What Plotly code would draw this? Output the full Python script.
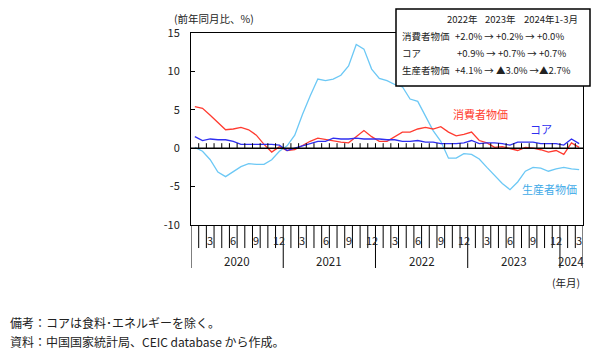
import plotly.graph_objects as go

years = ["2020", "2021", "2022", "2023", "2024"]
months_per_year = [12, 12, 12, 12, 3]
month_labels = []
for n in months_per_year:
    month_labels += [str(m) if m % 3 == 0 else "" for m in range(1, n + 1)]

cpi = [5.4, 5.2, 4.3, 3.3, 2.4, 2.5, 2.7, 2.4, 1.7, 0.5, -0.5, 0.2,
       -0.3, -0.2, 0.4, 0.9, 1.3, 1.1, 1.0, 0.8, 0.7, 1.5, 2.3, 1.5,
       0.9, 0.9, 1.5, 2.1, 2.1, 2.5, 2.7, 2.5, 2.8, 2.1, 1.6, 1.8,
       2.1, 1.0, 0.7, 0.1, 0.2, 0.0, -0.3, 0.1, 0.0, -0.2, -0.5, -0.3,
       -0.8, 0.7, 0.1]
core = [1.5, 1.0, 1.2, 1.1, 1.1, 0.9, 0.5, 0.5, 0.5, 0.5, 0.5, 0.4,
        -0.3, 0.0, 0.3, 0.7, 0.9, 0.9, 1.3, 1.2, 1.2, 1.3, 1.2, 1.2,
        1.2, 1.1, 1.1, 0.9, 0.9, 1.0, 0.8, 0.8, 0.6, 0.6, 0.6, 0.7,
        1.0, 0.6, 0.7, 0.7, 0.6, 0.4, 0.8, 0.8, 0.8, 0.6, 0.6, 0.6,
        0.4, 1.2, 0.6]
ppi = [0.1, -0.4, -1.5, -3.1, -3.7, -3.0, -2.4, -2.0, -2.1, -2.1, -1.5, -0.4,
       0.3, 1.7, 4.4, 6.8, 9.0, 8.8, 9.0, 9.5, 10.7, 13.5, 12.9, 10.3,
       9.1, 8.8, 8.3, 8.0, 6.4, 6.1, 4.2, 2.3, 0.9, -1.3, -1.3, -0.7,
       -0.8, -1.4, -2.5, -3.6, -4.6, -5.4, -4.4, -3.0, -2.5, -2.6, -3.0, -2.7,
       -2.5, -2.7, -2.8]

y_ticks = [15, 10, 5, 0, -5, -10]
box_header = ["2022年", "2023年", "2024年1-3月"]
box_rows = [("消費者物価", "+2.0% → +0.2% → +0.0%"),
            ("コア", "+0.9% → +0.7% → +0.7%"),
            ("生産者物価", "+4.1% → ▲3.0% →▲2.7%")]

n = len(cpi)
x = [i + 0.5 for i in range(n)]

c_cpi = "#FF3B30"
c_core = "#2F2FF0"
c_ppi = "#6CC8F5"
FONT = "Noto Sans CJK JP"

fig = go.Figure()
fig.add_trace(go.Scatter(x=x, y=ppi, mode="lines", line=dict(color=c_ppi, width=1.3), hoverinfo="skip"))
fig.add_trace(go.Scatter(x=x, y=cpi, mode="lines", line=dict(color=c_cpi, width=1.3), hoverinfo="skip"))
fig.add_trace(go.Scatter(x=x, y=core, mode="lines", line=dict(color=c_core, width=1.3), hoverinfo="skip"))

shapes = []
shapes.append(dict(type="line", xref="x", yref="y", x0=0, x1=n, y0=0, y1=0,
                   line=dict(color="black", width=1.5), layer="above"))
year_bounds = [0]
for k in months_per_year:
    year_bounds.append(year_bounds[-1] + k)
for b in range(n + 1):
    if 0 < b < n:
        shapes.append(dict(type="line", xref="x", yref="y", ysizemode="pixel", yanchor=0,
                           x0=b, x1=b, y0=0, y1=5, line=dict(color="black", width=1)))
    low = -0.224 if b in year_bounds else -0.12
    shapes.append(dict(type="line", xref="x", yref="paper", x0=b, x1=b, y0=0, y1=low,
                       line=dict(color="black", width=1)))

annotations = []
for i, lab in enumerate(month_labels):
    if lab:
        annotations.append(dict(x=i + 0.5, y=-0.078, xref="x", yref="paper", text=lab,
                                showarrow=False, font=dict(size=11, color="#222"),
                                yanchor="middle", xanchor="center"))
for j, yr in enumerate(years):
    annotations.append(dict(x=(year_bounds[j] + year_bounds[j + 1]) / 2, y=-0.19, xref="x", yref="paper",
                            text=yr, showarrow=False, font=dict(size=11.5, color="#222"),
                            yanchor="middle", xanchor="center"))

def cont_ann(text, xp, yp, color="#222", size=11, xanchor="left"):
    xpap = (xp - 191) / (583 - 191)
    ypap = (225 - yp) / (225 - 33)
    annotations.append(dict(x=xpap, y=ypap, xref="paper", yref="paper", text=text,
                            showarrow=False, font=dict(size=size, color=color, family=FONT),
                            xanchor=xanchor, yanchor="middle"))

cont_ann("(前年同月比、%)", 214, 18, size=10.5, xanchor="center")
cont_ann("(年月)", 566, 282, size=10.5, xanchor="center")
cont_ann("消費者物価", 480, 114, color=c_cpi, size=11, xanchor="center")
cont_ann("コア", 541, 129, color=c_core, size=11, xanchor="center")
cont_ann("生産者物価", 549, 189, color="#3FAAE8", size=11, xanchor="center")
cont_ann("備考：コアは食料･エネルギーを除く。", 8, 322, size=12)
cont_ann("資料：中国国家統計局、CEIC database から作成。", 8, 341, size=12)

xb0, xb1, yb0, yb1 = 396, 590, 9, 86
shapes.append(dict(type="rect", xref="paper", yref="paper",
                   x0=(xb0 - 191) / 392, x1=(xb1 - 191) / 392,
                   y0=(225 - yb1) / 192, y1=(225 - yb0) / 192,
                   fillcolor="white", line=dict(color="black", width=1.5), layer="above"))
hx = [462, 500, 551]
for h, xx in zip(box_header, hx):
    cont_ann(h, xx, 19, size=9.5, xanchor="center")
for r, (name, val) in enumerate(box_rows):
    yy = 36 + r * 17
    cont_ann(name, 400, yy, size=9.5)
    cont_ann(val, 453 if r != 1 else 455, yy, size=9.5)

fig.update_layout(
    width=601, height=357,
    margin=dict(l=191, r=18, t=33, b=132),
    paper_bgcolor="white", plot_bgcolor="white",
    showlegend=False,
    font=dict(family=FONT, color="#222"),
    shapes=shapes, annotations=annotations,
    xaxis=dict(range=[0, n], showticklabels=False, ticks="", showgrid=False, zeroline=False,
               showline=True, linecolor="black", linewidth=1, mirror=True, fixedrange=True),
    yaxis=dict(range=[-10, 15], tickvals=y_ticks, ticktext=[str(v) for v in y_ticks],
               ticks="inside", ticklen=4, tickcolor="black", showgrid=False, zeroline=False,
               showline=True, linecolor="black", linewidth=1, mirror=True, fixedrange=True,
               tickfont=dict(size=11, color="#222"), ticklabelstandoff=8),
)

fig.write_html("out.html", config={"displayModeBar": False},
               post_script="document.body.style.margin='0';")
